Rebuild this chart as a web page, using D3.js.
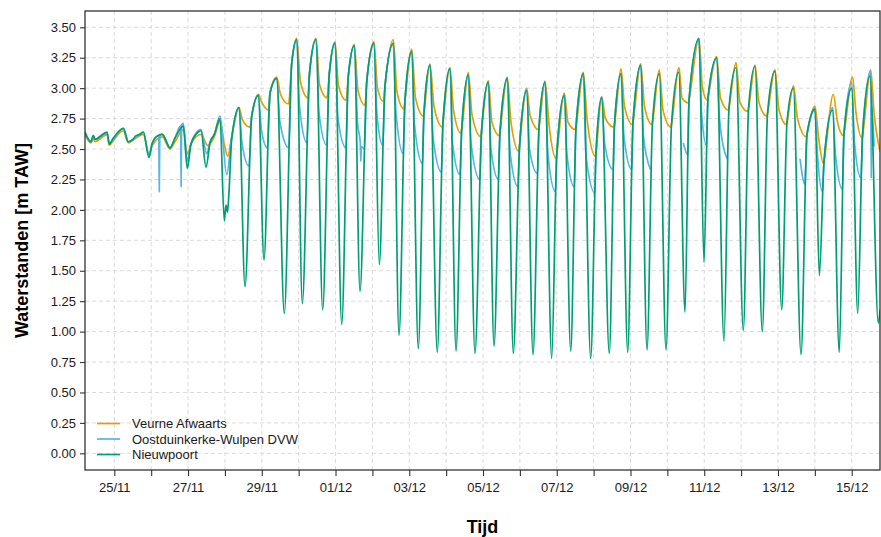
<!DOCTYPE html>
<html>
<head>
<meta charset="utf-8">
<script src="https://cdn.jsdelivr.net/npm/d3@7"></script>
<style>
  body { margin: 0; background: #fff; }
  text { font-family: "Liberation Sans", Arial, sans-serif; }
</style>
</head>
<body>
<div id="container"></div>
<script>
/* waterstanden, tijd in dagen na 24/11 00:00 */
const t0 = Date.UTC(2023, 10, 24)

const seriesNames = ["Veurne Afwaarts", "Oostduinkerke-Wulpen DVW", "Nieuwpoort"]
const seriesColors = ["#E69F00", "#56B4E9", "#009E73"]
const yTicks = [0, 0.25, 0.5, 0.75, 1, 1.25, 1.5, 1.75, 2, 2.25, 2.5, 2.75, 3, 3.25, 3.5]

const veurne = [
  [0.205, 2.62], [0.368, 2.55], [0.430, 2.59], [0.477, 2.56], [0.729, 2.61], [0.802, 2.62],
  [0.864, 2.53], [0.973, 2.57], [1.244, 2.65], [1.380, 2.55], [1.589, 2.59], [1.787, 2.62],
  [1.941, 2.46], [2.031, 2.53], [2.302, 2.60], [2.511, 2.50], [2.646, 2.56], [2.871, 2.66],
  [2.980, 2.46], [3.080, 2.54], [3.351, 2.62], [3.533, 2.53], [3.712, 2.60], [3.867, 2.73],
  [3.983, 2.54], [4.076, 2.44], [4.184, 2.60],
  [4.382, 2.84], [4.477, 2.74], [4.680, 2.68], [4.727, 2.77],
  [4.906, 2.95], [5.006, 2.88], [5.196, 2.82], [5.223, 2.96],
  [5.405, 3.09], [5.508, 2.95], [5.725, 2.87], [5.811, 3.20],
  [5.947, 3.41], [6.050, 3.05], [6.254, 2.92], [6.294, 3.12],
  [6.471, 3.41], [6.565, 3.03], [6.769, 2.92], [6.831, 3.12],
  [6.986, 3.38], [7.081, 3.02], [7.284, 2.90], [7.347, 3.10],
  [7.509, 3.36], [7.610, 2.98], [7.799, 2.86], [7.846, 3.05],
  [8.044, 3.38], [8.139, 3.00], [8.301, 2.89], [8.342, 3.02],
  [8.567, 3.40], [8.667, 2.97], [8.857, 2.83], [8.884, 2.90],
  [9.066, 3.32], [9.169, 2.92], [9.386, 2.77], [9.400, 2.80],
  [9.562, 3.20], [9.671, 2.85], [9.901, 2.68], [9.915, 2.72],
  [10.105, 3.17], [10.200, 2.82], [10.403, 2.63], [10.422, 2.66],
  [10.601, 3.13], [10.702, 2.78], [10.946, 2.60], [10.959, 2.64],
  [11.144, 3.06], [11.244, 2.72], [11.447, 2.61], [11.461, 2.64],
  [11.659, 3.09], [11.759, 2.72], [11.976, 2.48], [11.990, 2.52],
  [12.185, 3.00], [12.275, 2.78], [12.505, 2.66], [12.519, 2.68],
  [12.681, 3.06], [12.790, 2.70], [12.985, 2.42], [12.999, 2.45],
  [13.205, 2.96], [13.305, 2.72], [13.509, 2.66], [13.522, 2.68],
  [13.720, 3.13], [13.821, 2.75], [14.051, 2.44], [14.065, 2.47],
  [14.219, 2.93], [14.322, 2.75], [14.553, 2.68], [14.566, 2.70],
  [14.743, 3.16], [14.838, 2.85], [15.055, 2.70], [15.068, 2.72],
  [15.277, 3.20], [15.380, 2.85], [15.584, 2.70], [15.597, 2.72],
  [15.782, 3.15], [15.882, 2.82], [16.099, 2.68], [16.112, 2.70],
  [16.316, 3.17], [16.397, 2.92], [16.573, 2.88], [16.587, 2.90],
  [16.858, 3.41], [16.953, 3.00], [17.089, 2.90], [17.102, 2.92],
  [17.338, 3.26], [17.441, 2.92], [17.658, 2.82], [17.672, 2.84],
  [17.862, 3.21], [17.970, 2.88], [18.187, 2.81], [18.201, 2.83],
  [18.377, 3.19], [18.486, 2.88], [18.703, 2.77], [18.716, 2.79],
  [18.919, 3.15], [19.028, 2.82], [19.231, 2.70], [19.245, 2.72],
  [19.421, 3.02], [19.530, 2.75], [19.774, 2.60], [19.787, 2.62],
  [20.004, 2.85], [20.099, 2.60], [20.235, 2.38], [20.249, 2.40],
  [20.501, 2.95], [20.615, 2.72], [20.777, 2.61], [20.791, 2.63],
  [21.022, 3.09], [21.116, 2.80], [21.279, 2.59], [21.293, 2.61],
  [21.515, 3.15], [21.605, 2.80], [21.770, 2.48]
]

const oostduinkerke = [
  [0.205, 2.63], [0.368, 2.56], [0.430, 2.61], [0.477, 2.58], [0.729, 2.62], [0.802, 2.63],
  [0.864, 2.55], [0.973, 2.58], [1.244, 2.67], [1.380, 2.56], [1.589, 2.60], [1.787, 2.64],
  [1.941, 2.45], [2.031, 2.55], [2.207, 2.61], [2.220, 2.15], [2.234, 2.61], [2.302, 2.62],
  [2.511, 2.51], [2.646, 2.59], [2.798, 2.69], [2.812, 2.19], [2.825, 2.70], [2.871, 2.71],
  [2.980, 2.40], [3.080, 2.55], [3.351, 2.66], [3.506, 2.46], [3.596, 2.56], [3.712, 2.62],
  [3.867, 2.77], [4.049, 2.29], [4.184, 2.60],
  [4.382, 2.84], [4.463, 2.55], [4.653, 2.36], [4.727, 2.77],
  [4.906, 2.94], [4.992, 2.65], [5.155, 2.51], [5.223, 2.96],
  [5.405, 3.08], [5.494, 2.72], [5.733, 2.51], [5.811, 3.20],
  [5.947, 3.39], [6.023, 2.85], [6.225, 2.55], [6.294, 3.12],
  [6.471, 3.40], [6.552, 2.80], [6.763, 2.53], [6.831, 3.12],
  [6.986, 3.37], [7.067, 2.75], [7.284, 2.51], [7.347, 3.10],
  [7.509, 3.35], [7.596, 2.72], [7.672, 2.55], [7.685, 2.40], [7.699, 2.52], [7.786, 2.50], [7.846, 3.05],
  [8.044, 3.36], [8.125, 2.78], [8.282, 2.53], [8.342, 3.02],
  [8.567, 3.36], [8.640, 2.80], [8.838, 2.46], [8.884, 2.90],
  [9.066, 3.30], [9.142, 2.70], [9.359, 2.38], [9.400, 2.80],
  [9.562, 3.19], [9.644, 2.60], [9.874, 2.31], [9.915, 2.72],
  [10.105, 3.16], [10.173, 2.55], [10.376, 2.29], [10.422, 2.66],
  [10.601, 3.10], [10.674, 2.55], [10.913, 2.25], [10.959, 2.64],
  [11.144, 3.04], [11.217, 2.50], [11.420, 2.25], [11.461, 2.64],
  [11.659, 3.07], [11.732, 2.48], [11.949, 2.19], [11.990, 2.52],
  [12.185, 2.99], [12.261, 2.50], [12.478, 2.30], [12.519, 2.68],
  [12.681, 3.04], [12.763, 2.45], [12.966, 2.15], [12.999, 2.45],
  [13.205, 2.94], [13.278, 2.45], [13.476, 2.19], [13.522, 2.68],
  [13.720, 3.11], [13.793, 2.45], [14.032, 2.14], [14.065, 2.47],
  [14.219, 2.93], [14.295, 2.55], [14.531, 2.33], [14.566, 2.70],
  [14.743, 3.11], [14.824, 2.60], [15.036, 2.33], [15.068, 2.72],
  [15.277, 3.18], [15.353, 2.60], [15.543, 2.33], [15.560, null],
  [16.432, 2.55], [16.560, 2.45], [16.587, 2.90],
  [16.858, 3.40], [16.926, 2.80], [17.062, 2.53], [17.102, 2.92],
  [17.338, 3.24], [17.414, 2.75], [17.618, 2.42], [17.640, null],
  [19.598, 2.42], [19.730, 2.21], [19.787, 2.62],
  [20.004, 2.82], [20.072, 2.45], [20.208, 2.15], [20.249, 2.40],
  [20.485, 2.84], [20.560, 2.45], [20.750, 2.17], [20.791, 2.63],
  [21.000, 3.05], [21.076, 2.55], [21.252, 2.26], [21.293, 2.61],
  [21.515, 3.14], [21.529, 2.26], [21.542, 2.85], [21.605, 2.52]
]

const nieuwpoort = [
  [0.205, 2.64], [0.368, 2.56], [0.430, 2.61], [0.477, 2.58], [0.729, 2.63], [0.802, 2.64],
  [0.864, 2.54], [0.973, 2.59], [1.244, 2.67], [1.380, 2.56], [1.507, 2.58], [1.589, 2.61],
  [1.697, 2.62], [1.787, 2.64], [1.941, 2.43], [2.031, 2.55], [2.177, 2.61], [2.302, 2.62],
  [2.511, 2.51], [2.646, 2.59], [2.828, 2.68], [2.871, 2.69], [2.980, 2.34], [3.080, 2.54],
  [3.278, 2.64], [3.351, 2.65], [3.487, 2.35], [3.596, 2.55], [3.712, 2.62], [3.867, 2.75],
  [3.983, 1.91], [4.030, 2.04], [4.070, 1.98], [4.111, 2.15], [4.184, 2.58], [4.382, 2.84],
  [4.545, 1.37], [4.727, 2.77], [4.906, 2.94],
  [5.060, 1.59], [5.223, 2.96], [5.405, 3.08],
  [5.611, 1.15], [5.811, 3.20], [5.947, 3.40],
  [6.099, 1.23], [6.294, 3.12], [6.471, 3.40],
  [6.652, 1.18], [6.831, 3.12], [6.986, 3.37],
  [7.168, 1.06], [7.347, 3.10], [7.509, 3.35],
  [7.664, 1.33], [7.846, 3.05], [8.044, 3.37],
  [8.187, 1.55], [8.342, 3.02], [8.567, 3.37],
  [8.722, 0.97], [8.884, 2.90], [9.066, 3.30],
  [9.245, 0.86], [9.400, 2.80], [9.562, 3.19],
  [9.760, 0.83], [9.915, 2.72], [10.105, 3.16],
  [10.268, 0.84], [10.422, 2.66], [10.601, 3.11],
  [10.783, 0.82], [10.959, 2.64], [11.144, 3.05],
  [11.298, 0.88], [11.461, 2.64], [11.659, 3.08],
  [11.822, 0.82], [11.990, 2.52], [12.185, 2.98],
  [12.356, 0.81], [12.519, 2.68], [12.681, 3.05],
  [12.863, 0.78], [12.999, 2.45], [13.205, 2.94],
  [13.379, 0.84], [13.522, 2.68], [13.720, 3.12],
  [13.921, 0.78], [14.065, 2.47], [14.219, 2.92],
  [14.425, 0.82], [14.566, 2.70], [14.743, 3.12],
  [14.924, 0.83], [15.068, 2.72], [15.277, 3.19],
  [15.448, 0.85], [15.597, 2.72], [15.782, 3.12],
  [15.963, 0.85], [16.112, 2.70], [16.308, 3.13],
  [16.479, 1.16], [16.587, 2.90], [16.858, 3.41],
  [16.994, 1.57], [17.102, 2.92], [17.338, 3.25],
  [17.536, 0.92], [17.672, 2.84], [17.862, 3.17],
  [18.060, 1.01], [18.201, 2.83], [18.377, 3.18],
  [18.575, 1.00], [18.716, 2.79], [18.919, 3.14],
  [19.101, 1.18], [19.245, 2.72], [19.416, 3.00],
  [19.625, 0.81], [19.787, 2.62], [20.004, 2.83],
  [20.121, 1.46], [20.249, 2.40], [20.479, 2.82],
  [20.663, 0.83], [20.791, 2.63], [21.000, 3.00],
  [21.163, 1.15], [21.293, 2.61], [21.496, 3.10],
  [21.721, 1.07], [21.770, 1.18]
]

/* CONSTANTS */
const width = 881, height = 537
const panel = { left: 85, right: 880, top: 11, bottom: 470 }
const toDate = d => new Date(t0 + d * 864e5)

/* SCALES */
const xScale = d3.scaleUtc()
  .domain([toDate(0.2053), toDate(21.767)])
  .range([panel.left, panel.right])

const yScale = d3.scaleLinear()
  .domain([-0.137, 3.634])
  .range([panel.bottom, panel.top])

const svg = d3.select("#container")
  .append("svg")
  .attr("width", width)
  .attr("height", height)

svg.append("rect")
  .attr("width", width).attr("height", height)
  .attr("fill", "#fff")

const days = d3.utcDay.range(toDate(1), toDate(21.5))

/* GRID */
const grid = svg.append("g")
  .attr("stroke", "#d6d6d6")
  .attr("stroke-width", 0.9)
  .attr("stroke-dasharray", "4,3")

grid.selectAll(".gx")
  .data(days)
  .join("line")
  .attr("x1", d => xScale(d)).attr("x2", d => xScale(d))
  .attr("y1", panel.top).attr("y2", panel.bottom)

grid.selectAll(".gy")
  .data(yTicks)
  .join("line")
  .attr("x1", panel.left).attr("x2", panel.right)
  .attr("y1", d => yScale(d)).attr("y2", d => yScale(d))

/* LINES */
svg.append("clipPath").attr("id", "clip")
  .append("rect")
  .attr("x", panel.left).attr("y", panel.top)
  .attr("width", panel.right - panel.left)
  .attr("height", panel.bottom - panel.top)

const lineGen = d3.line()
  .defined(d => d[1] !== null)
  .x(d => xScale(toDate(d[0])))
  .y(d => yScale(d[1]))
  .curve(d3.curveMonotoneX)

const allSeries = [veurne, oostduinkerke, nieuwpoort]

svg.append("g")
  .attr("clip-path", "url(#clip)")
  .selectAll("path")
  .data(allSeries)
  .join("path")
  .attr("fill", "none")
  .attr("stroke", (d, i) => seriesColors[i])
  .attr("stroke-width", 1.7)
  .attr("stroke-linejoin", "round")
  .attr("d", d => lineGen(d))

/* AXES */
const labelFmt = d3.utcFormat("%d/%m")
const xAxis = d3.axisBottom(xScale)
  .tickValues(days)
  .tickSize(6)
  .tickPadding(7)
  .tickFormat((d, i) => i % 2 === 0 ? labelFmt(d) : "")

const xAxisGroup = svg.append("g")
  .attr("transform", `translate(0, ${panel.bottom})`)
  .call(xAxis)

const yAxis = d3.axisLeft(yScale)
  .tickValues(yTicks)
  .tickSize(5)
  .tickPadding(4)
  .tickFormat(d3.format(".2f"))

const yAxisGroup = svg.append("g")
  .attr("transform", `translate(${panel.left}, 0)`)
  .call(yAxis)

for (const g of [xAxisGroup, yAxisGroup]) {
  g.select(".domain").remove()
  g.selectAll(".tick line").attr("stroke", "#333").attr("stroke-width", 1.1)
  g.selectAll(".tick text")
    .style("font-size", "13px")
    .style("font-family", "'Liberation Sans', Arial, sans-serif")
    .attr("fill", "#1a1a1a")
}

/* FRAME */
svg.append("rect")
  .attr("x", panel.left).attr("y", panel.top)
  .attr("width", panel.right - panel.left)
  .attr("height", panel.bottom - panel.top)
  .attr("fill", "none")
  .attr("stroke", "#333")
  .attr("stroke-width", 1.3)

/* TITLES */
svg.append("text")
  .attr("x", (panel.left + panel.right) / 2)
  .attr("y", 533)
  .attr("text-anchor", "middle")
  .style("font-size", "18px")
  .style("font-weight", "bold")
  .text("Tijd")

svg.append("text")
  .attr("transform", `translate(28, ${(panel.top + panel.bottom) / 2}) rotate(-90)`)
  .attr("text-anchor", "middle")
  .style("font-size", "18px")
  .style("font-weight", "bold")
  .text("Waterstanden [m TAW]")

/* LEGEND */
const legend = svg.append("g")
  .selectAll("g")
  .data(seriesNames)
  .join("g")
  .attr("transform", (d, i) => `translate(97, ${423.5 + i * 15.5})`)

legend.append("line")
  .attr("x1", 0).attr("x2", 23)
  .attr("stroke", (d, i) => seriesColors[i])
  .attr("stroke-width", 1.7)

legend.append("text")
  .attr("x", 35)
  .attr("dy", "0.35em")
  .style("font-size", "13px")
  .attr("fill", "#1a1a1a")
  .text(d => d)
</script>
</body>
</html>
